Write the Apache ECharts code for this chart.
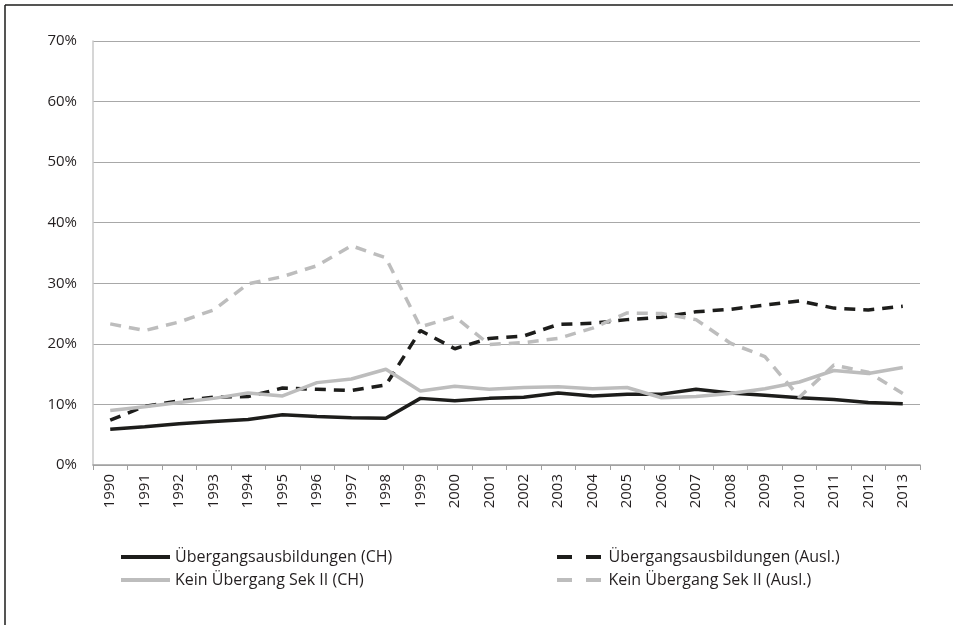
<!DOCTYPE html>
<html>
<head>
<meta charset="utf-8">
<title>Übergänge</title>
<script src="https://cdn.jsdelivr.net/npm/echarts@6/dist/echarts.min.js"></script>
<style>
  html, body { margin: 0; padding: 0; background: #fff; }
  #main { width: 953px; height: 625px; }
</style>
</head>
<body>
<div id="main"></div>
<script>
// Jahre (x-Achse)
var years = ['1990','1991','1992','1993','1994','1995','1996','1997','1998','1999','2000','2001',
             '2002','2003','2004','2005','2006','2007','2008','2009','2010','2011','2012','2013'];

// Werte in Prozent
var uebergangCH   = [5.9, 6.3, 6.8, 7.2, 7.5, 8.3, 8.0, 7.8, 7.7, 11.0, 10.6, 11.0, 11.2, 11.9, 11.4, 11.7, 11.7, 12.5, 11.9, 11.5, 11.1, 10.8, 10.3, 10.1];
var uebergangAusl = [7.4, 9.7, 10.6, 11.2, 11.3, 12.7, 12.5, 12.3, 13.2, 22.2, 19.2, 20.9, 21.3, 23.2, 23.4, 24.0, 24.4, 25.3, 25.7, 26.4, 27.1, 25.9, 25.6, 26.2];
var keinCH        = [9.0, 9.6, 10.3, 11.0, 11.9, 11.4, 13.6, 14.2, 15.8, 12.2, 13.0, 12.5, 12.8, 12.9, 12.6, 12.8, 11.1, 11.3, 11.8, 12.6, 13.7, 15.6, 15.1, 16.1];
var keinAusl      = [23.3, 22.2, 23.6, 25.6, 29.9, 31.1, 32.9, 36.2, 34.2, 22.8, 24.5, 19.9, 20.2, 20.9, 22.6, 25.1, 25.0, 24.0, 20.1, 17.9, 11.2, 16.5, 15.3, 11.8];

var black = '#1d1d1b';
var grey = '#bdbdbd';
var fontFam = '"Open Sans", "Noto Sans", sans-serif';

var myChart = echarts.init(document.getElementById('main'));

function lineSeries(name, data, color, dashed) {
  return {
    name: name,
    type: 'line',
    data: data,
    symbol: 'none',
    smooth: false,
    lineStyle: { color: color, width: 3.5, type: dashed ? [11, 8] : 'solid', cap: 'butt' },
    itemStyle: { color: color }
  };
}

myChart.setOption({
  animation: false,
  textStyle: { fontFamily: fontFam },
  grid: { left: 93, right: 33, top: 41, bottom: 160, containLabel: false },
  legend: [
    {
      left: 116, top: 544, orient: 'vertical', itemWidth: 49, itemHeight: 4, itemGap: 7,
      icon: 'path://M0,0 L49,0 L49,4 L0,4 Z',
      textStyle: { fontSize: 16, color: '#231f20', fontFamily: fontFam },
      data: ['Übergangsausbildungen (CH)', 'Kein Übergang Sek II (CH)']
    },
    {
      left: 552, top: 544, orient: 'vertical', itemWidth: 49, itemHeight: 4, itemGap: 7,
      icon: 'path://M0,0 L15,0 L15,4 L0,4 Z M29,0 L44,0 L44,4 L29,4 Z',
      textStyle: { fontSize: 16, color: '#231f20', fontFamily: fontFam },
      data: ['Übergangsausbildungen (Ausl.)', 'Kein Übergang Sek II (Ausl.)']
    }
  ],
  xAxis: {
    type: 'category',
    data: years,
    boundaryGap: true,
    axisLine: { lineStyle: { color: '#a0a0a0', width: 1.5 } },
    axisTick: { show: true, alignWithLabel: false, length: 5, lineStyle: { color: '#a0a0a0' } },
    axisLabel: { rotate: 90, color: '#231f20', fontSize: 15, margin: 9, interval: 0 }
  },
  yAxis: {
    type: 'value',
    min: 0, max: 70, interval: 10,
    axisLine: { show: true, lineStyle: { color: '#c8c8c8', width: 1.5 } },
    axisTick: { show: false },
    axisLabel: { color: '#231f20', fontSize: 15, margin: 16, formatter: '{value}%' },
    splitLine: { lineStyle: { color: '#a8a8a8', width: 1.2 } }
  },
  series: [
    lineSeries('Übergangsausbildungen (CH)', uebergangCH, black, false),
    lineSeries('Übergangsausbildungen (Ausl.)', uebergangAusl, black, true),
    lineSeries('Kein Übergang Sek II (CH)', keinCH, grey, false),
    lineSeries('Kein Übergang Sek II (Ausl.)', keinAusl, grey, true)
  ],
  graphic: [
    { type: 'line', shape: { x1: 5, y1: 5, x2: 953, y2: 5 }, style: { stroke: '#1d1d1b', lineWidth: 1.5 } },
    { type: 'line', shape: { x1: 5, y1: 5, x2: 5, y2: 625 }, style: { stroke: '#1d1d1b', lineWidth: 1.5 } }
  ]
});
</script>
</body>
</html>
